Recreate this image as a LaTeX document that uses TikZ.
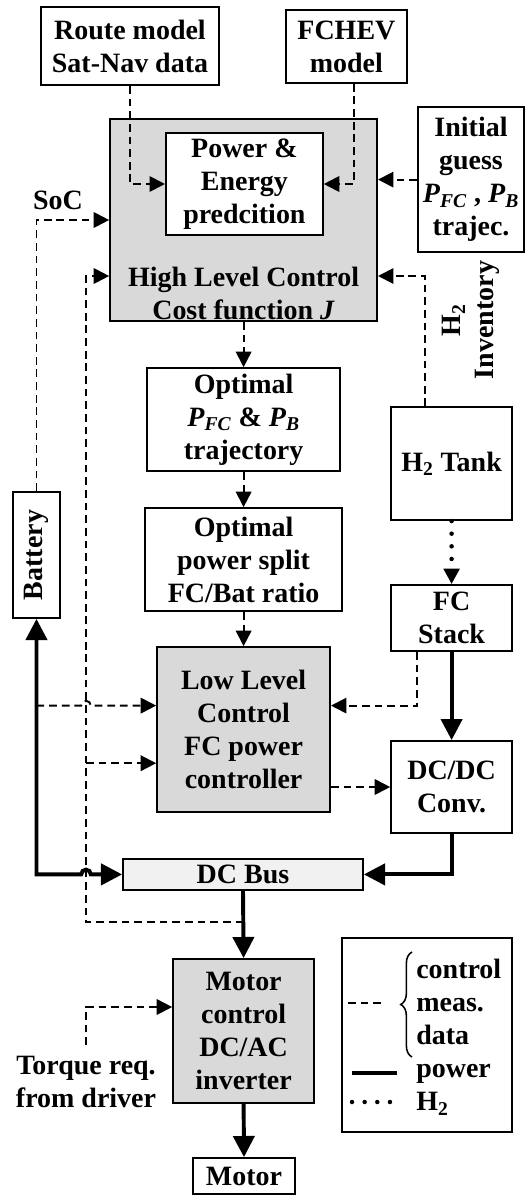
\documentclass[tikz,border=0pt]{standalone}
\usepackage{fontspec}
\setmainfont{Liberation Serif}
\usepackage{graphicx}
\usetikzlibrary{arrows.meta, positioning, calc, decorations.pathreplacing}

\definecolor{CtrlGray}{RGB}{217,217,217}
\definecolor{BusGray}{RGB}{241,241,241}

\newcommand{\PowFC}{\textit{P}\textsubscript{\textit{FC}}}
\newcommand{\PowB}{\textit{P}\textsubscript{\textit{B}}}

\tikzset{
  blk/.style={rectangle, draw=black, line width=1.3pt, fill=white, align=center, inner sep=2pt},
  ctlblk/.style={blk, fill=CtrlGray},
  busblk/.style={blk, fill=BusGray},
  ctrl/.style={-{Triangle[length=11pt,width=11pt]}, draw=black, line width=1.4pt, dash pattern=on 5.5pt off 3.5pt},
  pwr/.style={-{Triangle[length=15pt,width=15pt]}, draw=black, line width=2.8pt},
  htwo/.style={-{Triangle[length=11pt,width=11pt]}, draw=black, line width=3.2pt, line cap=round, dash pattern=on 0pt off 9pt},
  lbl/.style={align=center, inner sep=1pt}
}

\begin{document}
\begin{tikzpicture}[font=\fontsize{19.9}{23.5}\selectfont\bfseries]
  \useasboundingbox (0,0) rectangle (13.125,-29.875);

  % Input models
  \node[blk, minimum width=4.45cm, minimum height=1.95cm] (route) at (3.25,-1.15) {Route model\\Sat-Nav data};
  \node[blk, minimum width=3.025cm, minimum height=1.825cm] (fchev) at (8.66,-1.16) {FCHEV\\model};
  \node[blk, minimum width=2.65cm, minimum height=3.625cm] (guess) at (11.775,-4.49) {Initial\\guess\\\PowFC{} , \PowB\\trajec.};

  % High level control
  \node[ctlblk, minimum width=6.675cm, minimum height=5.05cm,
        label={[lbl, anchor=south]south:{High Level Control\\Cost function \textit{J}}}] (hlc) at (6.09,-5.5) {};
  \node[blk, minimum width=3.925cm, minimum height=2.55cm] (pe) at (6.11,-4.6) {Power \&\\Energy\\predcition};

  % Main chain
  \node[blk, minimum width=4.825cm, minimum height=2.575cm] (traj) at (6.09,-10.49) {Optimal\\\PowFC{} \& \PowB\\trajectory};
  \node[blk, minimum width=4.925cm, minimum height=2.575cm] (split) at (6.09,-13.99) {Optimal\\power split\\FC/Bat ratio};
  \node[ctlblk, minimum width=4.325cm, minimum height=4.125cm] (llc) at (6.09,-18.24) {Low Level\\Control\\FC power\\controller};
  \node[busblk, minimum width=6cm, minimum height=0.775cm] (bus) at (6.075,-21.86) {DC Bus};
  \node[ctlblk, minimum width=3.525cm, minimum height=3.6cm] (mcu) at (6.09,-25.775) {Motor\\control\\DC/AC\\inverter};
  \node[blk, minimum width=2.55cm, minimum height=0.9cm] (motor) at (6.1,-29.4) {Motor};

  % Energy sources
  \node[blk, minimum width=1.175cm, minimum height=3.15cm] (bat) at (0.9125,-13.875) {\rotatebox{90}{Battery}};
  \node[blk, minimum width=3.025cm, minimum height=2.825cm] (tank) at (11.29,-11.59) {H\textsubscript{2} Tank};
  \node[blk, minimum width=3.025cm, minimum height=1.65cm] (stack) at (11.29,-15.45) {FC\\Stack};
  \node[blk, minimum width=3.025cm, minimum height=2.3cm] (dcdc) at (11.29,-19.675) {DC/DC\\Conv.};

  % Free labels
  \node[lbl] (soc) at (1.45,-5.0) {SoC};
  \node[lbl, rotate=90] (inv) at (11.78,-8.0) {H\textsubscript{2}\\Inventory};
  \node[lbl, anchor=north, inner ysep=8pt] (torque) at (2.15,-26.125) {Torque req.\\from driver};

  % Legend
  \node[blk, minimum width=4.25cm, minimum height=4.85cm] (leg) at (10.675,-25.875) {};
  \node[lbl, anchor=west, align=left, inner sep=0pt] (legtxt) at (10.4,-25.93) {control\\meas.\\data\\power\\H\textsubscript{2}};

  % Control signals
  \draw[ctrl] (route.south) |- (pe.west);
  \draw[ctrl] ([xshift=0.19cm]fchev.south) |- (pe.east);
  \draw[ctrl] (guess.west) -- (guess.west -| hlc.east);
  \draw[ctrl] (bat.north) |- (hlc.west);
  \draw[ctrl] (hlc.south) -- (traj.north);
  \draw[ctrl] (traj.south) -- (split.north);
  \draw[ctrl] (split.south) -- (llc.north);
  \draw[ctrl] ([xshift=-0.66cm]tank.north) |- ([yshift=-1.4cm]hlc.east);
  \draw[ctrl] ([xshift=-0.86cm]stack.south) |- ([yshift=0.6cm]llc.east);
  \draw[ctrl] (dcdc.west -| llc.east) -- (dcdc.west);
  \draw[ctrl] (torque.north) |- ([yshift=0.6cm]mcu.west);

  % Measurement loop
  \coordinate (tap) at ($(bus.south)!0.47!(mcu.north)$);
  \coordinate (mx) at (2.15,0);
  \coordinate (llin) at ([yshift=0.6cm]llc.west);
  \coordinate (llmeas) at ([yshift=-0.84cm]llc.west);
  \draw[ctrl] (tap) -- (tap -| mx) |- ([yshift=-1.4cm]hlc.west);
  \draw[ctrl] (mx |- llmeas) -- (llmeas);
  \draw[ctrl] (bat.south |- llin) -- ($(mx |- llin)+(-0.12,0)$)
    arc[start angle=180, end angle=0, radius=0.12cm] -- (llin);

  % Power flow
  \draw[pwr, {Triangle[length=15pt,width=15pt]}-{Triangle[length=15pt,width=15pt]}]
    (bat.south) -- (bat.south |- bus.west) -- ($(mx |- bus.west)+(-0.12,0)$)
    arc[start angle=180, end angle=0, radius=0.12cm] -- (bus.west);
  \draw[pwr] (stack.south) -- (dcdc.north);
  \draw[pwr] (dcdc.south) |- (bus.east);
  \draw[pwr] (bus.south) -- (mcu.north);
  \draw[pwr] (mcu.south) -- (motor.north);

  % Hydrogen
  \draw[htwo] (tank.south) -- (stack.north);

  % Legend samples
  \draw[ctrl, -] (8.7,-25.075) -- (9.6,-25.075);
  \draw[decorate, decoration={brace, amplitude=8pt}, line width=1.1pt] (10.3,-26.425) -- (10.3,-23.8);
  \draw[pwr, -] (8.8,-26.825) -- (9.925,-26.825);
  \draw[htwo, -] (8.8,-27.55) -- (9.925,-27.55);
\end{tikzpicture}
\end{document}
